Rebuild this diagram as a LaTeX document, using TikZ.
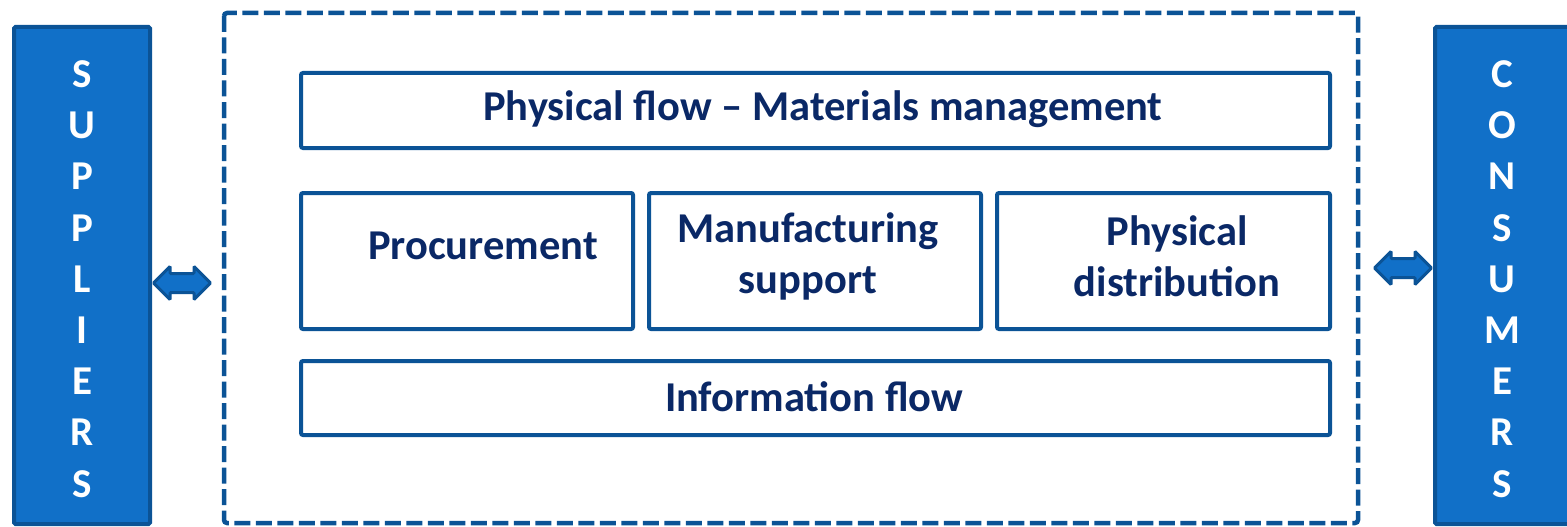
\documentclass[tikz,border=0pt]{standalone}
\usepackage{fontspec}
\setmainfont{Carlito}
\usetikzlibrary{shapes.arrows}
\definecolor{edge}{HTML}{0B5396}
\definecolor{sidefill}{HTML}{1170C8}
\definecolor{navy}{HTML}{0A2866}
\tikzset{
  sidebox/.style={draw=edge, fill=sidefill, line width=4pt, rounded corners=1.5pt},
  flowbox/.style={draw=edge, fill=white, line width=4pt, rounded corners=2pt},
  boxtext/.style={text=navy, font=\fontsize{42.5}{51}\selectfont\bfseries, align=center},
  sidetext/.style={text=white, font=\fontsize{41}{51.2}\selectfont\bfseries, align=center},
  dashbox/.style={draw=edge, line width=4.5pt, dash pattern=on 16pt off 5.5pt, rounded corners=3pt},
  dblarrow/.style={double arrow, draw=edge, fill=sidefill, line width=3pt, minimum height=57pt, minimum width=31pt, double arrow head extend=7pt, inner sep=8pt, rounded corners=1pt}
}
\begin{document}
\begin{tikzpicture}[x=1pt,y=-1pt]
\useasboundingbox (0,0) rectangle (1567,527);
% side boxes
\draw[sidebox] (14,27) rectangle (150,524);
\draw[sidebox] (1435,27) rectangle (1580,524);
\node[sidetext] (sup) at (82,279) {S\\U\\P\\P\\L\\I\\E\\R\\S};
\node[sidetext] (con) at (1502,279) {C\\O\\N\\S\\U\\M\\E\\R\\S};
% dashed frame
\draw[dashbox] (224,13) rectangle (1358,523);
% flow boxes
\draw[flowbox] (301,73) rectangle (1330,148);
\node[boxtext] (phys) at (823,109) {Physical flow – Materials management};
\draw[flowbox] (301,193) rectangle (633,329);
\node[boxtext] (proc) at (483,246) {Procurement};
\draw[flowbox] (649,193) rectangle (981,329);
\node[boxtext] (manu) at (808,256) {Manufacturing\\support};
\draw[flowbox] (997,193) rectangle (1330,329);
\node[boxtext] (dist) at (1177,256) {Physical\\distribution};
\draw[flowbox] (301,361) rectangle (1330,435);
\node[boxtext] (info) at (814,397) {Information flow};
% double arrows
\node[dblarrow] (la) at (182,283) {};
\node[dblarrow] (ra) at (1403,268) {};
\end{tikzpicture}
\end{document}
